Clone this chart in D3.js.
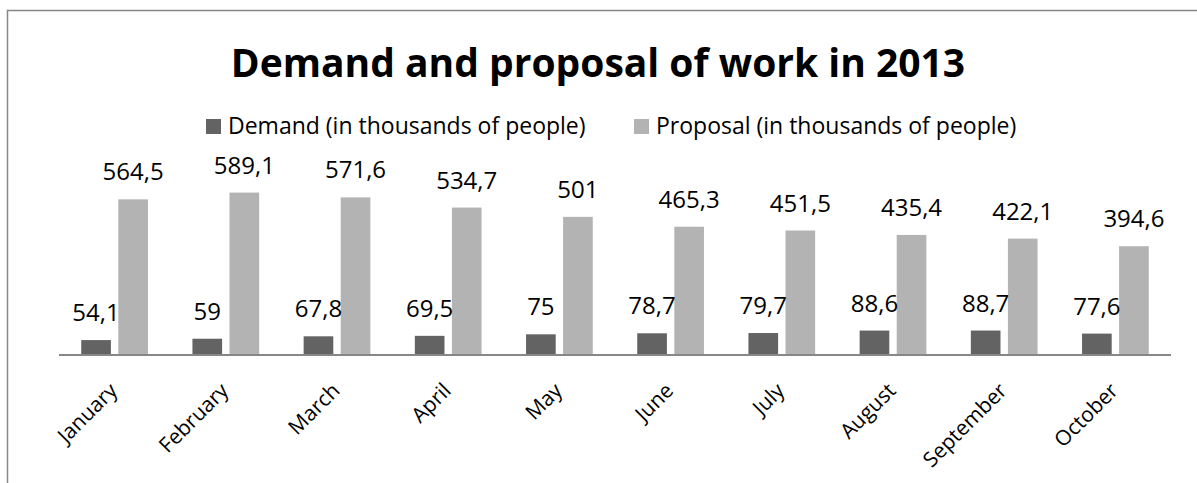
<!DOCTYPE html>
<html>
<head>
<meta charset="utf-8">
<script src="https://cdn.jsdelivr.net/npm/d3@7"></script>
<style>
  html, body { margin: 0; padding: 0; background: #fff; }
  svg { display: block; font-family: "Open Sans", sans-serif; }
</style>
</head>
<body>
<script>
const months = ["January","February","March","April","May","June","July","August","September","October"];
const demand = [54.1, 59, 67.8, 69.5, 75, 78.7, 79.7, 88.6, 88.7, 77.6];
const proposal = [564.5, 589.1, 571.6, 534.7, 501, 465.3, 451.5, 435.4, 422.1, 394.6];
const seriesNames = ["Demand (in thousands of people)", "Proposal (in thousands of people)"];
const seriesKeys = ["demand", "proposal"];
const colors = ["#636363", "#b3b3b3"];
const title = "Demand and proposal of work in 2013";

const W = 1197, H = 483;
const fmt = v => String(v).replace(".", ",");

const svg = d3.select("body").append("svg").attr("width", W).attr("height", H);

// chart border
svg.append("rect").attr("x", 7.5).attr("y", 10.5).attr("width", 1200).attr("height", 500)
  .attr("fill", "none").attr("stroke", "#878787").attr("stroke-width", 1.5);

const baseY = 355;
const x0 = d3.scaleBand().domain(months).range([59, 1171]).paddingInner(0).paddingOuter(0);
const x1 = d3.scaleBand().domain(seriesKeys).range([0, x0.bandwidth()]).paddingInner(0.2).paddingOuter(0.6);
const y = d3.scaleLinear().domain([0, 700]).range([baseY, baseY - 193]);

const data = months.map((m, i) => ({ month: m, values: [
  { key: "demand", value: demand[i], color: colors[0] },
  { key: "proposal", value: proposal[i], color: colors[1] }
]}));

const groups = svg.append("g").selectAll("g").data(data).join("g")
  .attr("transform", d => `translate(${x0(d.month)},0)`);

groups.selectAll("rect").data(d => d.values).join("rect")
  .attr("x", d => x1(d.key))
  .attr("y", d => y(d.value))
  .attr("width", x1.bandwidth())
  .attr("height", d => baseY - y(d.value))
  .attr("fill", d => d.color);

groups.selectAll("text.val").data(d => d.values).join("text")
  .attr("class", "val")
  .attr("x", d => x1(d.key) + x1.bandwidth() / 2)
  .attr("y", d => y(d.value) - 19)
  .attr("text-anchor", "middle")
  .attr("font-size", 24)
  .attr("fill", "#000")
  .text(d => fmt(d.value));

// x axis
const xAxis = svg.append("g").attr("transform", `translate(0,${baseY})`)
  .call(d3.axisBottom(x0).tickSize(0).tickPadding(0));
xAxis.select(".domain").attr("stroke", "#878787").attr("stroke-width", 2.2).attr("d", "M59,0H1171");
xAxis.selectAll(".tick text")
  .attr("font-family", "Open Sans, sans-serif")
  .attr("font-size", 21)
  .attr("fill", "#000")
  .attr("text-anchor", "end")
  .attr("dy", "0")
  .attr("transform", "translate(4,37) rotate(-45)");

// title
svg.append("text").attr("x", 598).attr("y", 77).attr("text-anchor", "middle")
  .attr("font-size", 39).attr("font-weight", "bold").attr("fill", "#000").text(title);

// legend
const legendX = [206, 634];
const lg = svg.append("g").selectAll("g").data(seriesNames).join("g")
  .attr("transform", (d, i) => `translate(${legendX[i]},119)`);
lg.append("rect").attr("width", 15).attr("height", 15).attr("fill", (d, i) => colors[i]);
lg.append("text").attr("x", 22).attr("y", 15).attr("font-size", 23).attr("fill", "#000").text(d => d);
</script>
</body>
</html>
